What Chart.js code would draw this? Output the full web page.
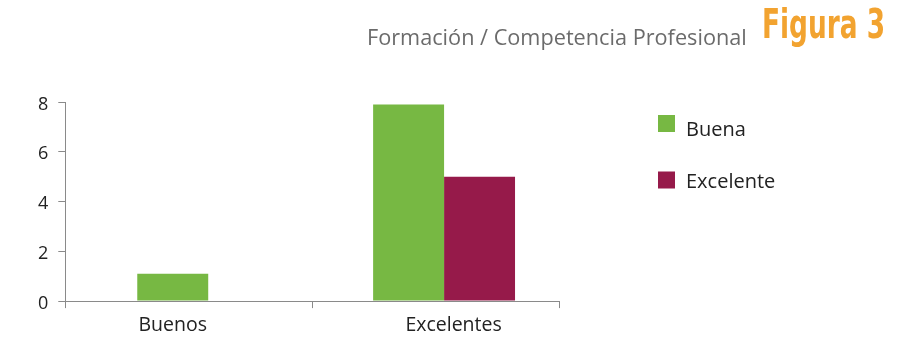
<!DOCTYPE html>
<html lang="es">
<head>
<meta charset="utf-8">
<title>Formación / Competencia Profesional</title>
<script src="https://cdn.jsdelivr.net/npm/chart.js@4.4.0/dist/chart.umd.min.js"></script>
<style>
  html, body { margin: 0; padding: 0; background: #fff; }
  #frame { position: relative; width: 909px; height: 340px; overflow: hidden; }
  #chart { position: absolute; left: 0; top: 0; }
  .head { position: absolute; white-space: nowrap; margin: 0; }
  #subject { left: 367px; top: 26px; font: 21.7px/22px "Open Sans", sans-serif; color: #6b6b6b; }
  #figure { left: 762px; top: 4px; font: bold 41px/41px "DejaVu Sans Condensed", "Liberation Sans Narrow", sans-serif; color: #f2a330; transform-origin: 0 0; }
</style>
</head>
<body>
<div id="frame">
  <canvas id="chart" width="909" height="340"></canvas>
  <div class="head" id="subject">Formación / Competencia Profesional</div>
  <div class="head" id="figure">Figura 3</div>
</div>
<script>
// Categories and series
const categories = ['Buenos', 'Excelentes'];
const seriesNames = ['Buena', 'Excelente'];
const buenaValues = [1.1, 7.9];
const excelenteValues = [0, 5];
const yTickValues = [0, 2, 4, 6, 8];

const GREEN = '#77b843';
const MAROON = '#961a4a';
const AXIS = '#8a8a8a';
const TEXT = '#222222';
const FONT = '"Open Sans", sans-serif';

// Condensed heading: squeeze "Figura 3" to its set width
const FIGURE_WIDTH = 123;
const fig = document.getElementById('figure');
fig.style.transform = 'scaleX(' + (FIGURE_WIDTH / fig.getBoundingClientRect().width) + ')';

// Horizontal spans (relative to the plot area) for the bar axis and the label axis
const axisSpans = { xb: [25, 3], xl: [-33, 35] };

// Side legend placement
const legendSpec = { x: 658, boxTop: 115, boxStep: 56.5, box: 17, textX: 686, textTop: 135.7, textStep: 52.6, size: 20 };

const spanPlugin = {
  id: 'axisSpans',
  afterLayout(chart) {
    const area = chart.chartArea;
    Object.keys(axisSpans).forEach(id => {
      const s = chart.scales[id];
      if (!s) return;
      s.left = area.left + axisSpans[id][0];
      s.right = area.right + axisSpans[id][1];
      s.width = s.right - s.left;
      s.configure();
    });
  }
};

const sideLegend = {
  id: 'sideLegend',
  afterDraw(chart) {
    const ctx = chart.ctx;
    ctx.save();
    chart.data.datasets.forEach((ds, i) => {
      const top = legendSpec.boxTop + i * legendSpec.boxStep;
      ctx.fillStyle = ds.backgroundColor;
      ctx.fillRect(legendSpec.x, top, legendSpec.box, legendSpec.box);
      ctx.fillStyle = TEXT;
      ctx.font = legendSpec.size + 'px ' + FONT;
      ctx.textBaseline = 'alphabetic';
      ctx.textAlign = 'left';
      ctx.fillText(ds.label, legendSpec.textX, legendSpec.textTop + i * legendSpec.textStep);
    });
    ctx.restore();
  }
};

new Chart(document.getElementById('chart'), {
  type: 'bar',
  data: {
    labels: categories,
    datasets: [
      { label: seriesNames[0], data: buenaValues, backgroundColor: GREEN, xAxisID: 'xb', categoryPercentage: 0.6017, barPercentage: 1, borderWidth: 0 },
      { label: seriesNames[1], data: excelenteValues, backgroundColor: MAROON, xAxisID: 'xb', categoryPercentage: 0.6017, barPercentage: 1, borderWidth: 0 }
    ]
  },
  options: {
    responsive: false,
    animation: false,
    events: [],
    layout: { padding: { left: 28, top: 102, right: 350, bottom: -3.5 } },
    plugins: {
      legend: { display: false },
      tooltip: { enabled: false },
      title: { display: false }
    },
    scales: {
      x: {
        type: 'category',
        position: 'bottom',
        weight: 0,
        offset: true,
        grid: { display: true, drawOnChartArea: false, offset: true, drawTicks: true, tickLength: 7, color: AXIS, lineWidth: 1 },
        border: { display: true, color: AXIS, width: 1 },
        ticks: { display: false }
      },
      xl: {
        type: 'category',
        position: 'bottom',
        weight: 1,
        labels: categories,
        offset: true,
        grid: { display: false, drawTicks: false },
        border: { display: false },
        ticks: { color: TEXT, font: { family: FONT, size: 19.5 }, padding: 6, maxRotation: 0, autoSkip: false }
      },
      xb: {
        type: 'category',
        display: false,
        labels: categories,
        offset: true
      },
      y: {
        type: 'linear',
        min: 0,
        max: 8,
        afterBuildTicks: axis => { axis.ticks = yTickValues.map(v => ({ value: v })); },
        grid: { display: true, drawOnChartArea: false, drawTicks: true, tickLength: 7, color: AXIS, lineWidth: 1 },
        border: { display: true, color: AXIS, width: 1 },
        ticks: { color: TEXT, font: { family: FONT, size: 18 }, padding: 10, labelOffset: 2.5 }
      }
    }
  },
  plugins: [spanPlugin, sideLegend]
});
</script>
</body>
</html>
